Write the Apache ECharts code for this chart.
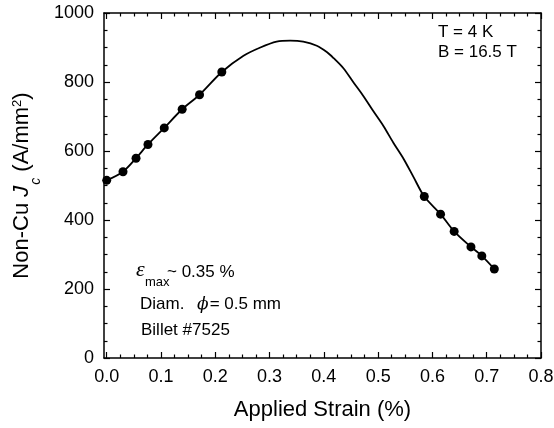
<!DOCTYPE html>
<html>
<head>
<meta charset="utf-8">
<script src="https://cdn.jsdelivr.net/npm/echarts@6/dist/echarts.min.js"></script>
<style>
html,body{margin:0;padding:0;background:#fff;}
#chart{width:554px;height:428px;}
#err{position:absolute;left:120px;top:120px;font:11px monospace;color:red;width:400px;}
</style>
</head>
<body>
<div id="chart"></div>
<div id="err"></div>
<script>
window.onerror = function (m) { document.getElementById('err').textContent += ' ERR:' + m; };
// measured points
var measStrain = [0.0, 0.03, 0.054, 0.076, 0.106, 0.139, 0.171, 0.212, 0.585, 0.615, 0.640, 0.671, 0.691, 0.714];
var measJc = [515, 540, 579, 619, 667, 721, 763, 829, 468, 417, 367, 322, 296, 258];
// fitted curve
var fitStrain = [0.0, 0.03, 0.054, 0.076, 0.106, 0.139, 0.171, 0.212, 0.252, 0.283, 0.313, 0.338, 0.362, 0.387, 0.406, 0.418, 0.436, 0.455, 0.473, 0.491, 0.510, 0.528, 0.547, 0.565, 0.585, 0.615, 0.640, 0.671, 0.691, 0.714];
var fitJc = [515, 540, 579, 619, 667, 721, 763, 829, 876, 900, 917, 920, 917, 905, 886, 869, 840, 798, 759, 716, 672, 624, 577, 525, 468, 417, 367, 322, 296, 258];
// tick labels
var xMajorTicks = [0, 0.1, 0.2, 0.3, 0.4, 0.5, 0.6, 0.7, 0.8];
var xMinorTicks = [0.025, 0.05, 0.075, 0.125, 0.15, 0.175, 0.225, 0.25, 0.275, 0.325, 0.35, 0.375, 0.425, 0.45, 0.475, 0.525, 0.55, 0.575, 0.625, 0.65, 0.675, 0.725, 0.75, 0.775];
var yTicks = [0, 200, 400, 600, 800, 1000];

var FONT = 'Liberation Sans';
var measPts = measStrain.map(function (x, i) { return [x, measJc[i]]; });
var fitPts = fitStrain.map(function (x, i) { return [x, fitJc[i]]; });

function xAx(pos, major, labels) {
  var a = {
    type: 'value', position: pos, min: -0.005, max: 0.8,
    axisLine: { show: major, onZero: false, lineStyle: { color: '#000', width: 1.5 } },
    axisTick: { show: true, inside: true, length: major ? 6 : 3.5,
      customValues: major ? xMajorTicks : xMinorTicks,
      lineStyle: { color: '#000', width: 1.2 } },
    axisLabel: { show: false },
    splitLine: { show: false }
  };
  if (labels) {
    a.axisLabel = { show: true, customValues: xMajorTicks, color: '#000',
      fontFamily: FONT, fontSize: 18, margin: 10,
      formatter: function (v) { return v.toFixed(1); } };
    a.name = 'Applied Strain (%)';
    a.nameLocation = 'middle';
    a.nameGap = 41;
    a.nameTextStyle = { color: '#000', fontFamily: FONT, fontSize: 22 };
  }
  return a;
}
function yAx(pos, labels) {
  var a = {
    type: 'value', position: pos, min: 0, max: 1000, interval: 200,
    axisLine: { show: true, onZero: false, lineStyle: { color: '#000', width: 1.5 } },
    axisTick: { show: true, inside: true, length: 6, lineStyle: { color: '#000', width: 1.2 } },
    minorTick: { show: true, splitNumber: 4, length: 3.5, lineStyle: { color: '#000', width: 1.2 } },
    axisLabel: { show: labels, color: '#000', fontFamily: FONT, fontSize: 18, margin: 10,
      formatter: function (v) { return String(v); } },
    splitLine: { show: false }
  };
  if (labels) {
    a.name = '{n|Non-Cu }{j|J}{s|c}{n| (A/mm}{p|2}{n|)}';
    a.nameLocation = 'middle';
    a.nameRotate = 90;
    a.nameGap = 52;
    a.nameTextStyle = {
      color: '#000', fontFamily: FONT, fontSize: 22,
      rich: {
        n: { fontFamily: FONT, fontSize: 22, lineHeight: 22, verticalAlign: 'top', color: '#000' },
        j: { fontFamily: FONT, fontSize: 22, lineHeight: 22, verticalAlign: 'top', fontStyle: 'italic', color: '#000' },
        s: { fontFamily: FONT, fontSize: 14, lineHeight: 14, padding: [18, 0, 0, 1], verticalAlign: 'top', fontStyle: 'italic', color: '#000' },
        p: { fontFamily: FONT, fontSize: 13, lineHeight: 13, verticalAlign: 'top', color: '#000' }
      }
    };
  }
  return a;
}

try {
var chart = echarts.init(document.getElementById('chart'));
chart.setOption({
  animation: false,
  backgroundColor: '#fff',
  grid: { left: 104, right: 13, top: 13, bottom: 70, outerBoundsMode: 'none', containLabel: false },
  xAxis: [xAx('bottom', true, true), xAx('bottom', false, false), xAx('top', true, false), xAx('top', false, false)],
  yAxis: [yAx('left', true), yAx('right', false)],
  series: [
    { type: 'line', data: fitPts, xAxisIndex: 0, yAxisIndex: 0, showSymbol: false,
      smooth: 0.3,
      lineStyle: { color: '#000', width: 1.8 }, z: 2 },
    { type: 'scatter', data: measPts, xAxisIndex: 0, yAxisIndex: 0, symbol: 'circle', symbolSize: 9,
      itemStyle: { color: '#000', opacity: 1 }, z: 3 }
  ],
  graphic: [
    { type: 'text', left: 438, top: 24, style: { text: 'T = 4 K', fill: '#000', font: '17px "Liberation Sans"' } },
    { type: 'text', left: 438, top: 44, style: { text: 'B = 16.5 T', fill: '#000', font: '17px "Liberation Sans"' } },
    { type: 'text', left: 136, top: 259, style: { text: 'ε', fill: '#000', font: 'italic 22px "Liberation Serif"' } },
    { type: 'text', left: 145, top: 276, style: { text: 'max', fill: '#000', font: '13px "Liberation Sans"' } },
    { type: 'text', left: 167, top: 264, style: { text: '~ 0.35 %', fill: '#000', font: '17px "Liberation Sans"' } },
    { type: 'text', left: 140, top: 296, style: {
        text: '{n|Diam. }{p|ϕ}{n|= 0.5 mm}', fill: '#000',
        rich: {
          n: { fontFamily: FONT, fontSize: 17, fill: '#000' },
          p: { fontFamily: 'DejaVu Serif', fontStyle: 'italic', fontSize: 17, padding: [0, 1, 0, 8], fill: '#000' }
        } } },
    { type: 'text', left: 141, top: 322, style: { text: 'Billet #7525', fill: '#000', font: '17px "Liberation Sans"' } }
  ]
});
} catch (e) { document.getElementById('err').textContent += ' CATCH:' + e.message; }
</script>
</body>
</html>
